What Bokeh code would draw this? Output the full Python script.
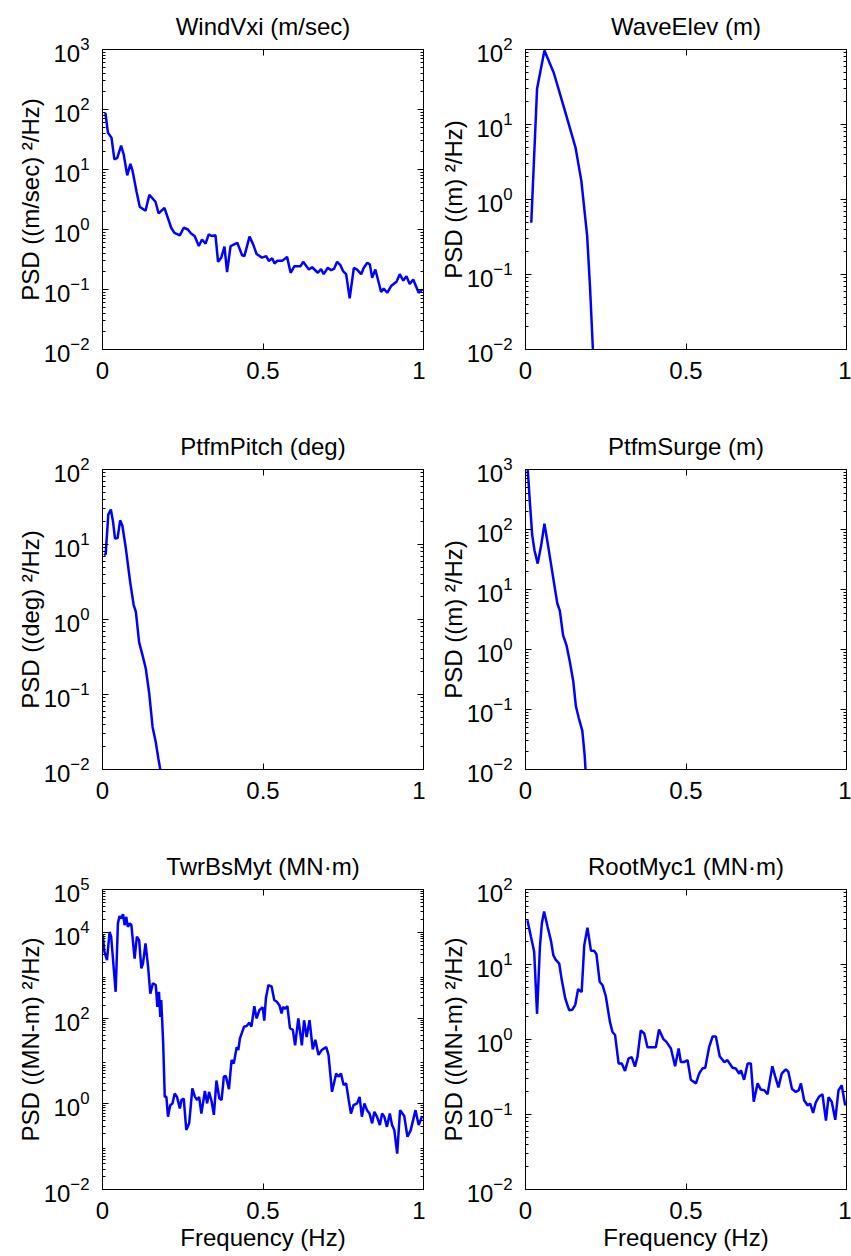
from bokeh.plotting import figure
from bokeh.layouts import column, row
from bokeh.models import (Range1d, FixedTicker, LinearAxis,
                          CustomJSTickFormatter, LogTickFormatter)
from bokeh.embed import file_html
from bokeh.resources import INLINE

FONT = "Liberation Sans"
FONT_SIZE = "24px"
LINE_COLOR = "#0000ff"

# ---------------- data ----------------
titles = ["WindVxi (m/sec)", "WaveElev (m)", "PtfmPitch (deg)",
          "PtfmSurge (m)", "TwrBsMyt (MN\u00b7m)", "RootMyc1 (MN\u00b7m)"]
ylabels = ["PSD ((m/sec) \u00b2/Hz)", "PSD ((m) \u00b2/Hz)", "PSD ((deg) \u00b2/Hz)",
           "PSD ((m) \u00b2/Hz)", "PSD ((MN-m) \u00b2/Hz)", "PSD ((MN-m) \u00b2/Hz)"]
xlabel = "Frequency (Hz)"
x_ticks = [0, 0.5, 1]

# y-axis decade limits (exponents) and labelled decades per panel
y_exp_lo = [-2, -2, -2, -2, -2, -2]
y_exp_hi = [3, 2, 2, 3, 5, 2]
y_major_exps = [[-2, -1, 0, 1, 2, 3], [-2, -1, 0, 1, 2], [-2, -1, 0, 1, 2],
                [-2, -1, 0, 1, 2, 3], [-2, 0, 2, 4, 5], [-2, -1, 0, 1, 2]]

f_windvxi = [0.009, 0.017, 0.028, 0.037, 0.046, 0.058, 0.066, 0.077, 0.087, 0.094,
             0.106, 0.116, 0.134, 0.146, 0.165, 0.175, 0.193, 0.214, 0.224, 0.241,
             0.253, 0.266, 0.276, 0.287, 0.300, 0.310, 0.321, 0.331, 0.340, 0.352,
             0.360, 0.370, 0.380, 0.388, 0.399, 0.420, 0.435, 0.442, 0.458, 0.469,
             0.480, 0.497, 0.510, 0.518, 0.529, 0.536, 0.544, 0.560, 0.575, 0.586,
             0.598, 0.617, 0.625, 0.643, 0.653, 0.671, 0.681, 0.689, 0.702, 0.712,
             0.721, 0.731, 0.741, 0.750, 0.759, 0.770, 0.783, 0.793, 0.806, 0.814,
             0.825, 0.833, 0.840, 0.850, 0.868, 0.876, 0.887, 0.899, 0.916, 0.926,
             0.937, 0.947, 0.957, 0.968, 0.985, 0.996]
psd_windvxi = [88, 41, 34, 14.7, 15.6, 25, 17.8, 8.0, 12.4, 9.3,
               4.3, 2.4, 2.05, 3.8, 2.9, 1.85, 2.3, 1.07, 0.88, 0.80,
               1.07, 1.0, 0.86, 0.78, 0.53, 0.68, 0.58, 0.83, 0.78, 0.80,
               0.29, 0.34, 0.52, 0.195, 0.53, 0.60, 0.37, 0.36, 0.76, 0.57,
               0.39, 0.34, 0.36, 0.30, 0.33, 0.27, 0.30, 0.30, 0.35, 0.19,
               0.245, 0.245, 0.29, 0.215, 0.235, 0.19, 0.22, 0.18, 0.23, 0.21,
               0.22, 0.29, 0.255, 0.20, 0.18, 0.071, 0.23, 0.215, 0.18, 0.23,
               0.28, 0.26, 0.156, 0.215, 0.091, 0.104, 0.088, 0.114, 0.135, 0.18,
               0.141, 0.166, 0.123, 0.147, 0.088, 0.10]

f_waveelev = [0.018, 0.036, 0.059, 0.088, 0.117, 0.138, 0.156, 0.174, 0.192, 0.201,
              0.210, 0.213]
psd_waveelev = [0.49, 30, 97, 49, 18.6, 9.1, 4.9, 1.77, 0.33, 0.068,
                0.01, 0.005]

f_ptfmpitch = [0.005, 0.010, 0.018, 0.026, 0.033, 0.039, 0.047, 0.055, 0.062, 0.073,
               0.086, 0.097, 0.104, 0.114, 0.125, 0.135, 0.145, 0.156, 0.166, 0.174,
               0.180, 0.182]
psd_ptfmpitch = [7.2, 7.5, 25, 29.3, 19.9, 12, 12.2, 21, 17.8, 8.7,
                 3.2, 1.57, 1.26, 0.50, 0.33, 0.22, 0.108, 0.037, 0.023, 0.014,
                 0.01, 0.0076]

f_ptfmsurge = [0.005, 0.0135, 0.021, 0.028, 0.038, 0.049, 0.059, 0.070, 0.080, 0.090,
               0.099, 0.107, 0.117, 0.128, 0.138, 0.149, 0.157, 0.166, 0.177, 0.184,
               0.187, 0.188]
psd_ptfmsurge = [1500, 288, 80, 45, 27, 55, 125, 55, 25.5, 11.8,
                 5.9, 4.4, 1.74, 1.16, 0.63, 0.29, 0.113, 0.072, 0.044, 0.018,
                 0.01, 0.0073]

f_twrbsmyt = [0.001, 0.006, 0.014, 0.022, 0.027, 0.041, 0.048, 0.053, 0.058, 0.064,
              0.069, 0.074, 0.079, 0.085, 0.090, 0.100, 0.107, 0.114, 0.121, 0.126,
              0.134, 0.142, 0.149, 0.157, 0.166, 0.171, 0.176, 0.180, 0.183, 0.189,
              0.194, 0.199, 0.204, 0.211, 0.218, 0.225, 0.232, 0.241, 0.246, 0.253,
              0.261, 0.270, 0.280, 0.288, 0.295, 0.301, 0.308, 0.319, 0.326, 0.332,
              0.340, 0.347, 0.355, 0.364, 0.371, 0.378, 0.384, 0.394, 0.402, 0.409,
              0.418, 0.423, 0.428, 0.441, 0.449, 0.457, 0.464, 0.473, 0.480, 0.489,
              0.499, 0.504, 0.509, 0.517, 0.527, 0.535, 0.543, 0.551, 0.558, 0.562,
              0.569, 0.576, 0.584, 0.593, 0.600, 0.610, 0.621, 0.628, 0.636, 0.645,
              0.655, 0.663, 0.673, 0.683, 0.697, 0.704, 0.715, 0.728, 0.735, 0.743,
              0.751, 0.759, 0.767, 0.774, 0.782, 0.793, 0.801, 0.808, 0.816, 0.824,
              0.832, 0.840, 0.847, 0.855, 0.864, 0.871, 0.878, 0.886, 0.895, 0.902,
              0.909, 0.918, 0.927, 0.940, 0.950, 0.960, 0.975, 0.985, 0.996]
psd_twrbsmyt = [8600, 3550, 2240, 10200, 7900, 410, 16200, 24000, 21000, 26500,
                14700, 23000, 13400, 16200, 14700, 2450, 7900, 6600, 1450, 1860,
                5500, 1590, 370, 650, 590, 182, 410, 107, 263, 26,
                1.45, 1.45, 0.50, 0.93, 1.02, 1.74, 1.45, 0.78, 1.23, 1.33,
                0.245, 0.35, 2.3, 1.45, 1.23, 1.45, 0.59, 2.0, 1.02, 1.9,
                1.12, 0.55, 3.5, 1.33, 1.23, 4.3, 4.5, 2.2, 10.5, 8.7,
                21, 18, 33, 63, 65, 78, 63, 190, 98, 155,
                178, 87, 290, 590, 540, 263, 240, 200, 128, 182,
                166, 190, 58, 53, 23, 98, 23, 89, 36, 89,
                18.6, 31, 13.8, 18, 21, 13.8, 1.9, 5.1, 4.3, 5.1,
                2.75, 3.0, 1.23, 0.59, 0.93, 1.02, 1.45, 0.50, 1.02, 0.71,
                0.59, 0.35, 0.65, 0.50, 0.32, 0.59, 0.50, 0.29, 0.59, 0.32,
                0.245, 0.069, 0.71, 0.52, 0.17, 0.24, 0.71, 0.32, 0.52]

f_rootmyc1 = [0.006, 0.017, 0.027, 0.036, 0.045, 0.051, 0.058, 0.069, 0.079, 0.087,
              0.094, 0.105, 0.113, 0.124, 0.136, 0.146, 0.155, 0.164, 0.169, 0.175,
              0.183, 0.193, 0.204, 0.214, 0.221, 0.231, 0.240, 0.250, 0.263, 0.271,
              0.279, 0.290, 0.300, 0.310, 0.321, 0.331, 0.341, 0.349, 0.359, 0.370,
              0.380, 0.390, 0.406, 0.416, 0.429, 0.439, 0.453, 0.466, 0.477, 0.484,
              0.494, 0.505, 0.515, 0.531, 0.541, 0.551, 0.560, 0.572, 0.583, 0.593,
              0.605, 0.619, 0.629, 0.645, 0.655, 0.666, 0.671, 0.681, 0.692, 0.702,
              0.711, 0.723, 0.733, 0.744, 0.754, 0.769, 0.778, 0.788, 0.798, 0.811,
              0.819, 0.830, 0.842, 0.851, 0.858, 0.868, 0.879, 0.887, 0.896, 0.904,
              0.915, 0.925, 0.936, 0.944, 0.954, 0.965, 0.975, 0.985, 0.996]
psd_rootmyc1 = [39, 23.4, 14.8, 2.2, 17.5, 35.5, 51, 31.6, 21, 13.2,
                11.6, 10.3, 6.2, 3.5, 2.46, 2.5, 2.9, 4.7, 4.5, 4.3,
                18, 31, 15.2, 15.2, 13.7, 5.9, 5.3, 3.8, 1.72, 1.26,
                1.15, 0.48, 0.48, 0.38, 0.56, 0.58, 0.435, 0.59, 1.32, 1.2,
                0.79, 0.79, 0.79, 1.36, 1.02, 0.93, 0.76, 0.44, 0.76, 0.5,
                0.5, 0.53, 0.29, 0.26, 0.35, 0.41, 0.42, 0.79, 1.1, 1.1,
                0.60, 0.50, 0.53, 0.42, 0.41, 0.35, 0.39, 0.29, 0.48, 0.48,
                0.148, 0.26, 0.215, 0.21, 0.186, 0.44, 0.32, 0.23, 0.35, 0.40,
                0.37, 0.22, 0.20, 0.21, 0.26, 0.155, 0.132, 0.140, 0.105, 0.144,
                0.174, 0.186, 0.083, 0.17, 0.148, 0.085, 0.21, 0.245, 0.132]

freqs = [f_windvxi, f_waveelev, f_ptfmpitch, f_ptfmsurge, f_twrbsmyt, f_rootmyc1]
psds = [psd_windvxi, psd_waveelev, psd_ptfmpitch, psd_ptfmsurge, psd_twrbsmyt, psd_rootmyc1]

# ---------------- layout ----------------
FRAME_W, FRAME_H = 321, 300
BORDER_LEFT = [102, 100]
BORDER_RIGHT = [2, 5]
BORDER_TOP = [48, 48, 48]
BORDER_BOTTOM = [71, 71, 70]


def style_axis(ax, ticker, labels=True):
    ax.ticker = ticker
    ax.major_tick_in = 6
    ax.major_tick_out = 0
    ax.minor_tick_in = 3
    ax.minor_tick_out = 0
    ax.axis_line_color = "black"
    ax.major_tick_line_color = "black"
    ax.minor_tick_line_color = "black"
    if labels:
        ax.major_label_text_font = FONT
        ax.major_label_text_font_size = FONT_SIZE
        ax.major_label_text_color = "black"
        ax.major_label_standoff = 12
    else:
        ax.formatter = CustomJSTickFormatter(code="return ''")
        ax.major_label_text_font_size = "1px"
        ax.major_label_standoff = 0


def make_panel(i):
    r, c = divmod(i, 2)
    lo, hi = y_exp_lo[i], y_exp_hi[i]
    p = figure(frame_width=FRAME_W, frame_height=FRAME_H,
               x_range=Range1d(0, 1), y_range=Range1d(10.0 ** lo, 10.0 ** hi),
               y_axis_type="log", output_backend="svg", toolbar_location=None,
               min_border_left=BORDER_LEFT[c], min_border_right=BORDER_RIGHT[c],
               min_border_top=BORDER_TOP[r], min_border_bottom=BORDER_BOTTOM[r],
               background_fill_color="white", border_fill_color="white")
    p.xgrid.visible = False
    p.ygrid.visible = False
    p.outline_line_color = "black"
    p.outline_line_alpha = 1.0

    p.title.text = titles[i]
    p.title.align = "center"
    p.title.text_font = FONT
    p.title.text_font_size = FONT_SIZE
    p.title.text_font_style = "normal"
    p.title.text_color = "black"
    p.title.standoff = 20

    y_major = [10.0 ** e for e in y_major_exps[i]]
    y_minor = [m * 10.0 ** e for e in range(lo, hi) for m in range(2, 10)]
    yt = FixedTicker(ticks=y_major, minor_ticks=y_minor)
    xt = FixedTicker(ticks=x_ticks)

    ya = p.yaxis[0]
    style_axis(ya, yt)
    ya.major_label_standoff = 13
    ya.formatter = LogTickFormatter()
    ya.axis_label = ylabels[i]
    ya.axis_label_text_font = FONT
    ya.axis_label_text_font_size = FONT_SIZE
    ya.axis_label_text_font_style = "normal"
    ya.axis_label_text_color = "black"
    ya.axis_label_standoff = -3

    xa = p.xaxis[0]
    style_axis(xa, xt)
    xa.formatter = CustomJSTickFormatter(code="return String(tick)")
    if r == 2:
        xa.axis_label = xlabel
        xa.axis_label_text_font = FONT
        xa.axis_label_text_font_size = FONT_SIZE
        xa.axis_label_text_font_style = "normal"
        xa.axis_label_text_color = "black"
        xa.axis_label_standoff = 2

    ra = LinearAxis()
    style_axis(ra, FixedTicker(ticks=y_major, minor_ticks=y_minor), labels=False)
    p.add_layout(ra, "right")
    ta = LinearAxis()
    style_axis(ta, FixedTicker(ticks=x_ticks), labels=False)
    p.add_layout(ta, "above")

    p.line(freqs[i], psds[i], line_color=LINE_COLOR, line_width=2.5)
    return p


panels = [make_panel(i) for i in range(6)]
layout = column(row(panels[0], panels[1]),
                row(panels[2], panels[3]),
                row(panels[4], panels[5]))

open("out.html", "w").write(file_html(layout, INLINE))
